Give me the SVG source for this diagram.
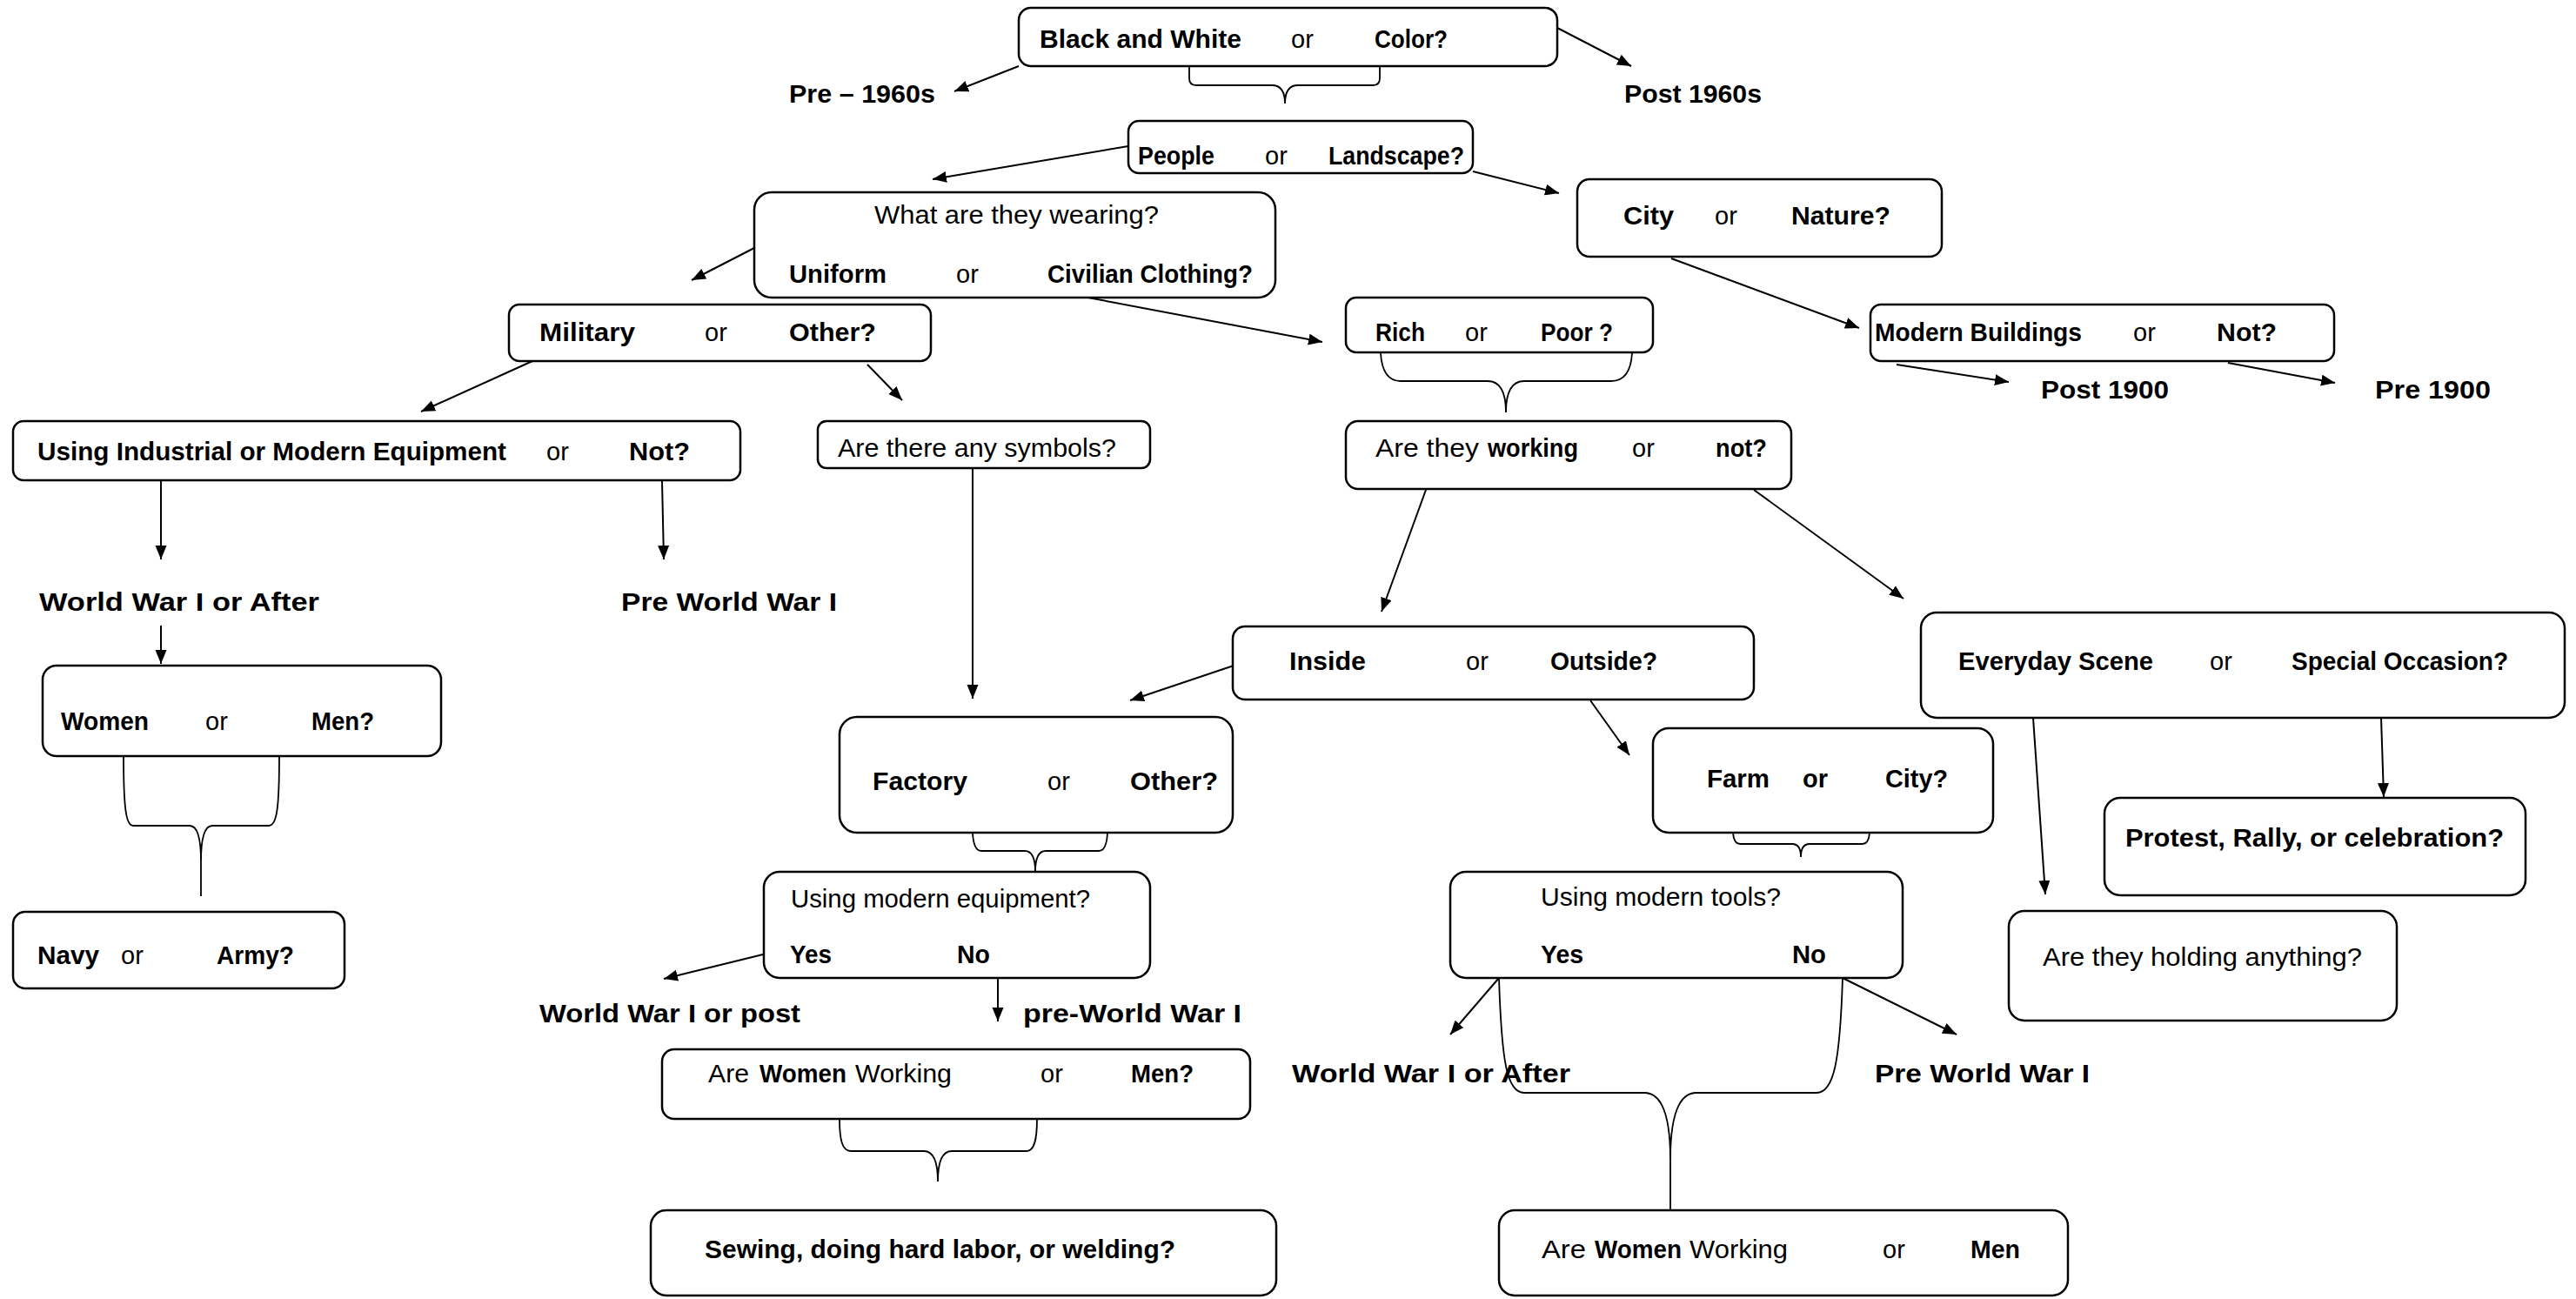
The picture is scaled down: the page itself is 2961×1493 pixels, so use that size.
<svg xmlns="http://www.w3.org/2000/svg" width="2961" height="1493" viewBox="0 0 2961 1493">
<style>
text{font-family:"Liberation Sans",Arial,sans-serif;font-size:29px;fill:#000}
.b{font-weight:bold}
.n{font-weight:normal}
.box{fill:#fff;stroke:#000;stroke-width:2.5}
.c{fill:none;stroke:#000;stroke-width:2}
.br{fill:none;stroke:#000;stroke-width:1.8}
</style>
<defs>
<marker id="ah" markerUnits="userSpaceOnUse" markerWidth="17" markerHeight="14" refX="16" refY="6.5" orient="auto"><path d="M0,0 L16,6.5 L0,13 z" fill="#000"/></marker>
</defs>
<rect width="2961" height="1493" fill="#fff"/>

<g id="connectors">
<g marker-end="url(#ah)" class="c">
<line x1="1171" y1="76" x2="1097" y2="105"/>
<line x1="1790" y1="32" x2="1875" y2="76"/>
<line x1="1297" y1="168" x2="1072" y2="206"/>
<line x1="1693" y1="197" x2="1792" y2="222"/>
<line x1="867" y1="285" x2="795" y2="322"/>
<line x1="1240" y1="340" x2="1520" y2="393"/>
<line x1="1921" y1="297" x2="2137" y2="377"/>
<line x1="2180" y1="419" x2="2309" y2="439"/>
<line x1="2561" y1="417" x2="2684" y2="440"/>
<line x1="612" y1="415" x2="484" y2="473"/>
<line x1="997" y1="419" x2="1037" y2="460"/>
<line x1="185" y1="553" x2="185" y2="643"/>
<line x1="761" y1="553" x2="763" y2="643"/>
<line x1="185" y1="719" x2="185" y2="763"/>
<line x1="1118" y1="538" x2="1118" y2="803"/>
<line x1="1639" y1="563" x2="1588" y2="703"/>
<line x1="2016" y1="563" x2="2188" y2="688"/>
<line x1="1418" y1="765" x2="1299" y2="805"/>
<line x1="1828" y1="805" x2="1873" y2="868"/>
<line x1="2737" y1="825" x2="2740" y2="916"/>
<line x1="2337" y1="825" x2="2351" y2="1028"/>
<line x1="877" y1="1097" x2="763" y2="1125"/>
<line x1="1147" y1="1124" x2="1147" y2="1174"/>
<line x1="1723" y1="1124" x2="1667" y2="1189"/>
<line x1="2118" y1="1124" x2="2249" y2="1189"/>
</g>
<g class="br">
<path d="M1367,76 L1367,90 Q1367,98 1375,98 L1462,98 Q1477,98 1477,119 M1586,76 L1586,90 Q1586,98 1578,98 L1492,98 Q1477,98 1477,119"/>
<path d="M1587,406 Q1589,438 1610,438 L1710,438 Q1731,438 1731,474 M1876,406 Q1874,438 1852,438 L1752,438 Q1731,438 1731,474"/>
<path d="M142,869 C142,930 145,949 153,949 L218,949 Q231,949 231,990 L231,1030 M321,869 C321,930 318,949 309,949 L244,949 Q231,949 231,990"/>
<path d="M1118,957 Q1119,978 1128,978 L1178,978 Q1190,978 1190,1002 M1273,957 Q1272,978 1263,978 L1202,978 Q1190,978 1190,1002"/>
<path d="M1992,957 Q1993,970 2000,970 L2060,970 Q2070,970 2070,985 M2149,957 Q2148,970 2141,970 L2080,970 Q2070,970 2070,985"/>
<path d="M965,1286 C965,1310 968,1323 978,1323 L1062,1323 Q1078,1323 1078,1358 M1192,1286 C1192,1310 1189,1323 1180,1323 L1094,1323 Q1078,1323 1078,1358"/>
<path d="M1723,1124 C1726,1220 1732,1256 1752,1256 L1890,1256 Q1920,1256 1920,1333 L1920,1391 M2118,1124 C2115,1220 2108,1256 2088,1256 L1950,1256 Q1920,1256 1920,1333"/>
</g>
</g>

<g id="n-color">
<rect class="box" x="1171" y="9" width="619" height="67" rx="14"/>
<text class="b" x="1195" y="55" textLength="232" lengthAdjust="spacingAndGlyphs">Black and White</text>
<text class="n" x="1484" y="55">or</text>
<text class="b" x="1580" y="55" textLength="84" lengthAdjust="spacingAndGlyphs">Color?</text>
</g>
<g id="n-pre1960"><text class="b" x="907" y="118" textLength="168" lengthAdjust="spacingAndGlyphs">Pre – 1960s</text></g>
<g id="n-post1960"><text class="b" x="1867" y="118" textLength="158" lengthAdjust="spacingAndGlyphs">Post 1960s</text></g>

<g id="n-people">
<rect class="box" x="1297" y="139" width="396" height="60" rx="12"/>
<text class="b" x="1308" y="189" textLength="88" lengthAdjust="spacingAndGlyphs">People</text>
<text class="n" x="1454" y="189">or</text>
<text class="b" x="1527" y="189" textLength="156" lengthAdjust="spacingAndGlyphs">Landscape?</text>
</g>

<g id="n-city">
<rect class="box" x="1813" y="206" width="419" height="89" rx="14"/>
<text class="b" x="1866" y="258" textLength="58" lengthAdjust="spacingAndGlyphs">City</text>
<text class="n" x="1971" y="258">or</text>
<text class="b" x="2059" y="258" textLength="114" lengthAdjust="spacingAndGlyphs">Nature?</text>
</g>

<g id="n-wearing">
<rect class="box" x="867" y="221" width="599" height="121" rx="20"/>
<text class="n" x="1005" y="257" textLength="327" lengthAdjust="spacingAndGlyphs">What are they wearing?</text>
<text class="b" x="907" y="325" textLength="112" lengthAdjust="spacingAndGlyphs">Uniform</text>
<text class="n" x="1099" y="325">or</text>
<text class="b" x="1204" y="325" textLength="236" lengthAdjust="spacingAndGlyphs">Civilian Clothing?</text>
</g>

<g id="n-military">
<rect class="box" x="585" y="350" width="485" height="65" rx="12"/>
<text class="b" x="620" y="392" textLength="110" lengthAdjust="spacingAndGlyphs">Military</text>
<text class="n" x="810" y="392">or</text>
<text class="b" x="907" y="392" textLength="100" lengthAdjust="spacingAndGlyphs">Other?</text>
</g>

<g id="n-rich">
<rect class="box" x="1547" y="342" width="353" height="63" rx="12"/>
<text class="b" x="1581" y="392" textLength="57" lengthAdjust="spacingAndGlyphs">Rich</text>
<text class="n" x="1684" y="392">or</text>
<text class="b" x="1771" y="392" textLength="83" lengthAdjust="spacingAndGlyphs">Poor ?</text>
</g>

<g id="n-modern">
<rect class="box" x="2150" y="350" width="533" height="65" rx="12"/>
<text class="b" x="2155" y="392" textLength="238" lengthAdjust="spacingAndGlyphs">Modern Buildings</text>
<text class="n" x="2452" y="392">or</text>
<text class="b" x="2548" y="392" textLength="69" lengthAdjust="spacingAndGlyphs">Not?</text>
</g>
<g id="n-post1900"><text class="b" x="2346" y="458" textLength="147" lengthAdjust="spacingAndGlyphs">Post 1900</text></g>
<g id="n-pre1900"><text class="b" x="2730" y="458" textLength="133" lengthAdjust="spacingAndGlyphs">Pre 1900</text></g>

<g id="n-industrial">
<rect class="box" x="15" y="484" width="836" height="68" rx="12"/>
<text class="b" x="43" y="529" textLength="539" lengthAdjust="spacingAndGlyphs">Using Industrial or Modern Equipment</text>
<text class="n" x="628" y="529">or</text>
<text class="b" x="723" y="529" textLength="70" lengthAdjust="spacingAndGlyphs">Not?</text>
</g>

<g id="n-symbols">
<rect class="box" x="940" y="484" width="382" height="54" rx="10"/>
<text class="n" x="963" y="525" textLength="320" lengthAdjust="spacingAndGlyphs">Are there any symbols?</text>
</g>

<g id="n-working">
<rect class="box" x="1547" y="484" width="512" height="78" rx="14"/>
<text class="n" x="1581" y="525" textLength="119" lengthAdjust="spacingAndGlyphs">Are they</text>
<text class="b" x="1710" y="525" textLength="104" lengthAdjust="spacingAndGlyphs">working</text>
<text class="n" x="1876" y="525">or</text>
<text class="b" x="1972" y="525" textLength="59" lengthAdjust="spacingAndGlyphs">not?</text>
</g>

<g id="n-wwi-after-1"><text class="b" x="45" y="702" textLength="322" lengthAdjust="spacingAndGlyphs">World War I or After</text></g>
<g id="n-pre-wwi-1"><text class="b" x="714" y="702" textLength="248" lengthAdjust="spacingAndGlyphs">Pre World War I</text></g>

<g id="n-women">
<rect class="box" x="49" y="765" width="458" height="104" rx="16"/>
<text class="b" x="70" y="839" textLength="101" lengthAdjust="spacingAndGlyphs">Women</text>
<text class="n" x="236" y="839">or</text>
<text class="b" x="358" y="839" textLength="72" lengthAdjust="spacingAndGlyphs">Men?</text>
</g>

<g id="n-navy">
<rect class="box" x="15" y="1048" width="381" height="88" rx="14"/>
<text class="b" x="43" y="1108" textLength="71" lengthAdjust="spacingAndGlyphs">Navy</text>
<text class="n" x="139" y="1108">or</text>
<text class="b" x="249" y="1108" textLength="89" lengthAdjust="spacingAndGlyphs">Army?</text>
</g>

<g id="n-inside">
<rect class="box" x="1417" y="720" width="599" height="84" rx="14"/>
<text class="b" x="1482" y="770" textLength="88" lengthAdjust="spacingAndGlyphs">Inside</text>
<text class="n" x="1685" y="770">or</text>
<text class="b" x="1782" y="770" textLength="123" lengthAdjust="spacingAndGlyphs">Outside?</text>
</g>

<g id="n-everyday">
<rect class="box" x="2208" y="704" width="740" height="121" rx="18"/>
<text class="b" x="2251" y="770" textLength="224" lengthAdjust="spacingAndGlyphs">Everyday Scene</text>
<text class="n" x="2540" y="770">or</text>
<text class="b" x="2634" y="770" textLength="249" lengthAdjust="spacingAndGlyphs">Special Occasion?</text>
</g>

<g id="n-factory">
<rect class="box" x="965" y="824" width="452" height="133" rx="20"/>
<text class="b" x="1003" y="908" textLength="109" lengthAdjust="spacingAndGlyphs">Factory</text>
<text class="n" x="1204" y="908">or</text>
<text class="b" x="1299" y="908" textLength="101" lengthAdjust="spacingAndGlyphs">Other?</text>
</g>

<g id="n-farm">
<rect class="box" x="1900" y="837" width="391" height="120" rx="18"/>
<text class="b" x="1962" y="905" textLength="72" lengthAdjust="spacingAndGlyphs">Farm</text>
<text class="b" x="2072" y="905">or</text>
<text class="b" x="2167" y="905" textLength="72" lengthAdjust="spacingAndGlyphs">City?</text>
</g>

<g id="n-protest">
<rect class="box" x="2419" y="917" width="484" height="112" rx="18"/>
<text class="b" x="2443" y="973" textLength="435" lengthAdjust="spacingAndGlyphs">Protest, Rally, or celebration?</text>
</g>

<g id="n-holding">
<rect class="box" x="2309" y="1047" width="446" height="126" rx="18"/>
<text class="n" x="2348" y="1110" textLength="367" lengthAdjust="spacingAndGlyphs">Are they holding anything?</text>
</g>

<g id="n-equipment">
<rect class="box" x="878" y="1002" width="444" height="122" rx="18"/>
<text class="n" x="909" y="1043" textLength="344" lengthAdjust="spacingAndGlyphs">Using modern equipment?</text>
<text class="b" x="908" y="1107" textLength="48" lengthAdjust="spacingAndGlyphs">Yes</text>
<text class="b" x="1100" y="1107" textLength="38" lengthAdjust="spacingAndGlyphs">No</text>
</g>

<g id="n-tools">
<rect class="box" x="1667" y="1002" width="520" height="122" rx="18"/>
<text class="n" x="1771" y="1041" textLength="276" lengthAdjust="spacingAndGlyphs">Using modern tools?</text>
<text class="b" x="1771" y="1107" textLength="49" lengthAdjust="spacingAndGlyphs">Yes</text>
<text class="b" x="2060" y="1107" textLength="39" lengthAdjust="spacingAndGlyphs">No</text>
</g>

<g id="n-wwi-post"><text class="b" x="620" y="1175" textLength="300" lengthAdjust="spacingAndGlyphs">World War I or post</text></g>
<g id="n-pre-wwi-2"><text class="b" x="1176" y="1175" textLength="251" lengthAdjust="spacingAndGlyphs">pre-World War I</text></g>

<g id="n-women-working-1">
<rect class="box" x="761" y="1206" width="676" height="80" rx="14"/>
<text class="n" x="814" y="1244" textLength="47" lengthAdjust="spacingAndGlyphs">Are</text>
<text class="b" x="873" y="1244" textLength="100" lengthAdjust="spacingAndGlyphs">Women</text>
<text class="n" x="983" y="1244" textLength="111" lengthAdjust="spacingAndGlyphs">Working</text>
<text class="n" x="1196" y="1244">or</text>
<text class="b" x="1300" y="1244" textLength="72" lengthAdjust="spacingAndGlyphs">Men?</text>
</g>

<g id="n-wwi-after-2"><text class="b" x="1485" y="1244" textLength="320" lengthAdjust="spacingAndGlyphs">World War I or After</text></g>
<g id="n-pre-wwi-3"><text class="b" x="2155" y="1244" textLength="247" lengthAdjust="spacingAndGlyphs">Pre World War I</text></g>

<g id="n-sewing">
<rect class="box" x="748" y="1391" width="719" height="98" rx="18"/>
<text class="b" x="810" y="1446" textLength="541" lengthAdjust="spacingAndGlyphs">Sewing, doing hard labor, or welding?</text>
</g>

<g id="n-women-working-2">
<rect class="box" x="1723" y="1391" width="654" height="98" rx="18"/>
<text class="n" x="1772" y="1446" textLength="51" lengthAdjust="spacingAndGlyphs">Are</text>
<text class="b" x="1833" y="1446" textLength="100" lengthAdjust="spacingAndGlyphs">Women</text>
<text class="n" x="1942" y="1446" textLength="113" lengthAdjust="spacingAndGlyphs">Working</text>
<text class="n" x="2164" y="1446">or</text>
<text class="b" x="2265" y="1446" textLength="57" lengthAdjust="spacingAndGlyphs">Men</text>
</g>
</svg>
